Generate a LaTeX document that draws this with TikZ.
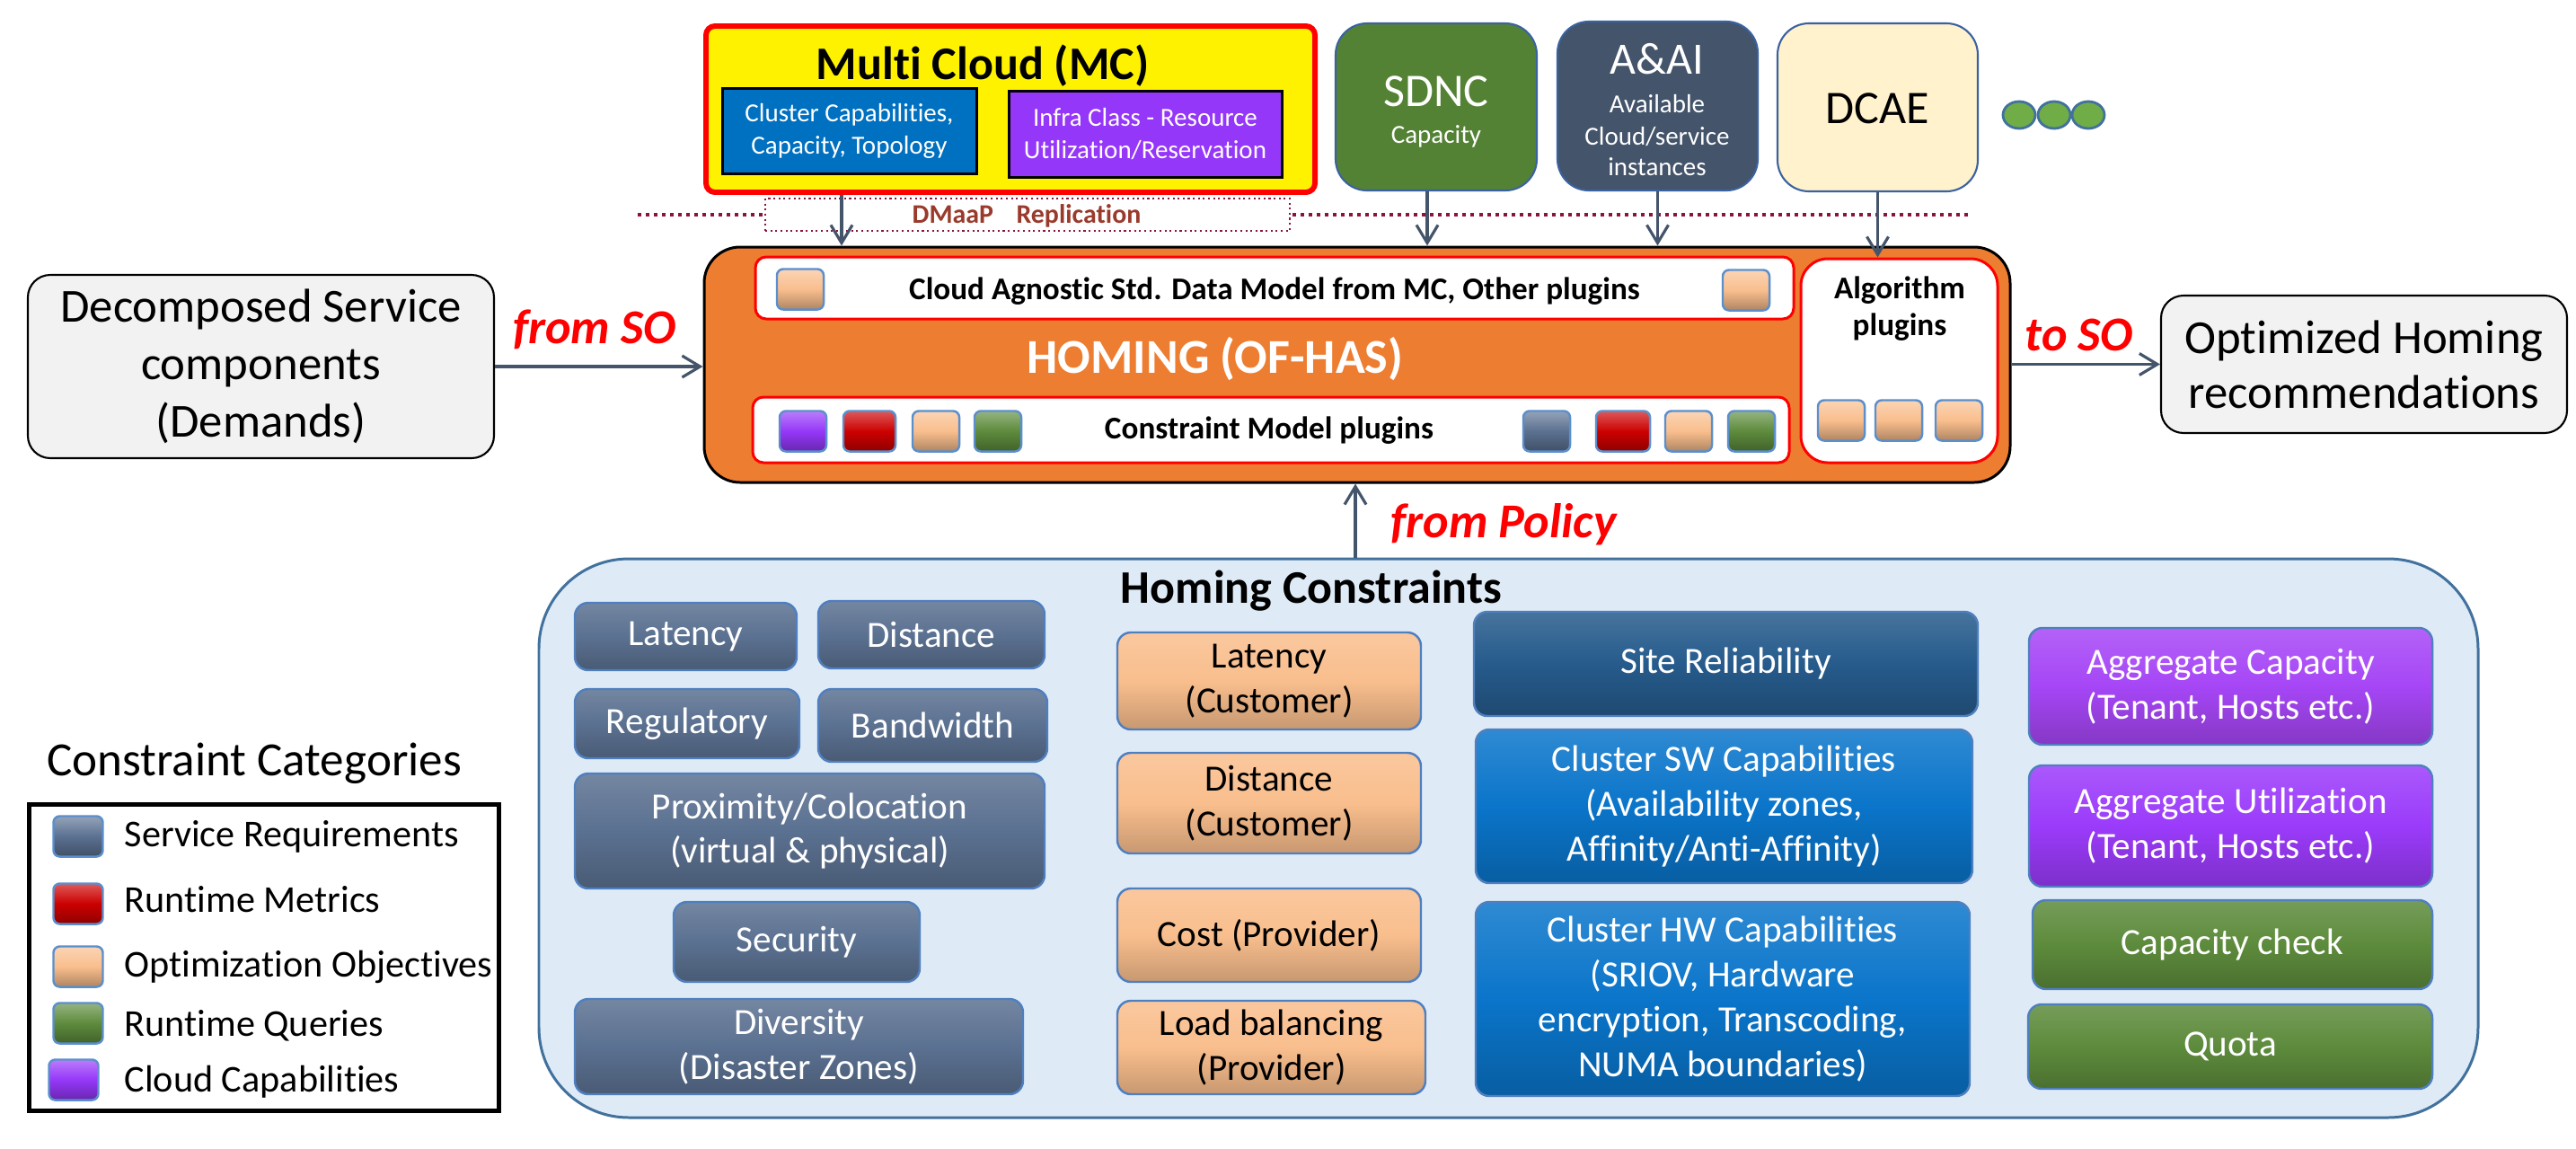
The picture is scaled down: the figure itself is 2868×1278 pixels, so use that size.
\documentclass[tikz,border=0pt]{standalone}
\usepackage{fontspec}
\setmainfont{Carlito}[Ligatures=NoCommon]
\usetikzlibrary{arrows.meta,fit}
\newcommand\myfs[2]{\fontsize{#1}{#2}\selectfont}
\definecolor{cArr}{HTML}{44546A}
\definecolor{cMaroon}{HTML}{8A1538}
\definecolor{cDM}{HTML}{9A3A2C}
\definecolor{cMCblue}{HTML}{0070C0}
\definecolor{cMCpur}{HTML}{9537F9}
\definecolor{cSDNC}{HTML}{548235}
\definecolor{cAAI}{HTML}{44546A}
\definecolor{cDCAE}{HTML}{FFF2CC}
\definecolor{cTopEdge}{HTML}{3A62A0}
\definecolor{cDot}{HTML}{70AD47}
\definecolor{cDotEdge}{HTML}{41719C}
\definecolor{cHom}{HTML}{ED7D31}
\definecolor{cGrayF}{HTML}{F2F2F2}
\definecolor{cCont}{HTML}{41719C}
\definecolor{cContF}{HTML}{DEEBF7}
\definecolor{cSR}{HTML}{5B7191}
\definecolor{cOpt}{HTML}{F9BE8D}
\definecolor{cSite}{HTML}{265B8C}
\definecolor{cClu}{HTML}{0A75CA}
\definecolor{cAggA}{HTML}{A646F6}
\definecolor{cAggB}{HTML}{9B3BFB}
\definecolor{cGrn}{HTML}{5D8B3C}
\definecolor{cRedI}{HTML}{CC0000}
\definecolor{cIcoEdge}{HTML}{5B8FCC}
\definecolor{cBoxEdge}{HTML}{4F7FBF}
\tikzset{
  arr/.style={draw=cArr, line width=0.9pt, -{Straight Barb[length=0.2cm,width=0.24cm]}},
  topbox/.style={draw=cTopEdge, line width=0.6pt, rounded corners=0.35cm, inner sep=0},
  inbox/.style={draw=red, fill=white, line width=0.85pt, inner sep=0},
  ico/.style={draw=cIcoEdge, line width=0.7pt, rounded corners=0.07cm, inner sep=0, minimum width=0.52cm, minimum height=0.45cm},
  icoc/.style={top color=#1!65!white, bottom color=#1!70!black, middle color=#1},
  cb/.style={draw=cBoxEdge, line width=0.7pt, rounded corners=0.15cm, inner sep=0, top color=#1!85!white, bottom color=#1!80!black, middle color=#1},
  ct/.style={inner sep=0, align=center, font=\myfs{11.7}{14.2}},
  cw/.style={ct, text=white},
  txt/.style={inner sep=0, anchor=base},
  lbl/.style={inner sep=0, anchor=base west, font=\myfs{12}{14}},
  redlbl/.style={txt, text=red, font=\bfseries\itshape\myfs{15.4}{18}},
  dotst/.style={fill=cDot, draw=cDotEdge, line width=0.8pt},
}
\begin{document}
\begin{tikzpicture}[x=0.01cm,y=-0.01cm]
\useasboundingbox (0,0) rectangle (2868,1278);

% ---------------- top row ----------------
\node[fit={(786,29)(1464,214)}, inner sep=0, draw=red, fill=yellow, line width=1.7pt, rounded corners=0.1cm] (mc) {};
\node[txt, font=\bfseries\myfs{14.8}{17}] (mct) at (1094,88) {Multi Cloud (MC)};
\node[fit={(804,98)(1087,193)}, inner sep=0, draw=black, fill=cMCblue, line width=0.85pt] (cc) {};
\node[inner sep=0, text=white, align=center, font=\myfs{8.25}{10.2}] (cct) at (cc.center) {Cluster Capabilities,\\Capacity, Topology};
\node[fit={(1123,101)(1427,197)}, inner sep=0, draw=black, fill=cMCpur, line width=0.85pt] (ic) {};
\node[inner sep=0, text=white, align=center, font=\myfs{8.25}{10.2}] (ict) at (ic.center) {Infra Class - Resource\\Utilization/Reservation};

\coordinate (dl1) at (710,239);
\coordinate (dl2) at (2193,239);
\draw[cMaroon, line width=1.4pt, dash pattern=on 0.04cm off 0.05cm] (dl1) -- (dl2);
\node[fit={(852,221)(1436,257)}, inner sep=0, draw=cMaroon, fill=white, densely dotted, line width=0.6pt] (dm) {};
\node[txt, font=\bfseries\myfs{8.5}{10}, text=cDM] (dmt) at (1143,248) {DMaaP\hspace{0.85em}Replication};

\node[topbox, fill=cSDNC, fit={(1487,26)(1711,212)}] (sdnc) {};
\node[txt, text=white, font=\myfs{14.8}{17}] (sdnct) at (1599,118) {SDNC};
\node[txt, text=white, font=\myfs{8.25}{10}] (sdncc) at (1599,159) {Capacity};

\node[topbox, fill=cAAI, fit={(1734,24)(1957,212)}] (aai) {};
\node[txt, text=white, font=\myfs{14.2}{16}] (aait) at (1845,82) {A\&AI};
\node[txt, text=white, font=\myfs{8.25}{10}] (aai1) at (1845,125) {Available};
\node[txt, text=white, font=\myfs{8.25}{10}] (aai2) at (1845,161) {Cloud/service};
\node[txt, text=white, font=\myfs{8.25}{10}] (aai3) at (1845,195) {instances};

\node[topbox, fill=cDCAE, fit={(1979,26)(2202,213)}] (dcae) {};
\node[txt, font=\myfs{14.8}{17}] (dcaet) at (2090,137) {DCAE};

\draw[dotst] (2248,128) ellipse [x radius=0.18cm, y radius=0.15cm];
\draw[dotst] (2287,128) ellipse [x radius=0.18cm, y radius=0.15cm];
\draw[dotst] (2325,128) ellipse [x radius=0.18cm, y radius=0.15cm];

% ---------------- homing box ----------------
\node[fit={(784,275)(2238,537)}, inner sep=0, draw=black, fill=cHom, line width=0.85pt, rounded corners=0.4cm] (hom) {};
\node[inbox, rounded corners=0.12cm, fit={(841,286)(1997,355)}] (cam) {};
\node[txt, font=\bfseries\myfs{10}{12}] (camt) at (1419,333) {Cloud Agnostic Std. Data Model from MC, Other plugins};
\node[txt, text=white, font=\bfseries\myfs{15.4}{18}] (homt) at (1353,415) {HOMING (OF-HAS)};
\node[inbox, rounded corners=0.12cm, fit={(838,442)(1992,515)}] (cmp) {};
\node[txt, font=\bfseries\myfs{10}{12}] (cmpt) at (1413,488) {Constraint Model plugins};
\node[inbox, rounded corners=0.3cm, fit={(2005,288)(2224,515)}] (alg) {};
\node[txt, font=\bfseries\myfs{10}{12}] (algt1) at (2115,332) {Algorithm};
\node[txt, font=\bfseries\myfs{10}{12}] (algt2) at (2115,373) {plugins};

\node[ico, icoc=cOpt] (t1) at (891,322) {};
\node[ico, icoc=cOpt] (t2) at (1944,323) {};
\node[ico, icoc=cMCpur] (c1) at (894,480) {};
\node[ico, icoc=cRedI, minimum width=0.58cm] (c2) at (968,480) {};
\node[ico, icoc=cOpt] (c3) at (1042,480) {};
\node[ico, icoc=cGrn] (c4) at (1111,480) {};
\node[ico, icoc=cSR] (c5) at (1722,480) {};
\node[ico, icoc=cRedI, minimum width=0.6cm] (c6) at (1807,480) {};
\node[ico, icoc=cOpt] (c7) at (1880,480) {};
\node[ico, icoc=cGrn] (c8) at (1950,480) {};
\node[ico, icoc=cOpt] (g1) at (2050,468) {};
\node[ico, icoc=cOpt] (g2) at (2114,468) {};
\node[ico, icoc=cOpt] (g3) at (2181,468) {};

% ---------------- side boxes ----------------
\node[fit={(31,306)(550,510)}, inner sep=0, draw=black, fill=cGrayF, line width=0.6pt, rounded corners=0.25cm] (dec) {};
\node[inner sep=0, align=center, font=\myfs{15}{18.2}] (dect) at (dec.center) {Decomposed Service\\components\\(Demands)};
\node[fit={(2406,329)(2858,482)}, inner sep=0, draw=black, fill=cGrayF, line width=0.6pt, rounded corners=0.25cm] (opt) {};
\node[inner sep=0, align=center, font=\myfs{15}{17.4}] (optt) at (opt.center) {Optimized Homing\\recommendations};

% ---------------- constraints container ----------------
\node[fit={(600,622)(2759,1244)}, inner sep=0, draw=cCont, fill=cContF, line width=0.85pt, rounded corners=1cm] (hc) {};
\node[txt, font=\bfseries\myfs{14.8}{17}] (hct) at (1460,671) {Homing Constraints};

\node[cb=cSR, fit={(640,671)(887,746)}] (lat1) {};
\node[cw] at (lat1.center) {Latency};
\node[cb=cSR, fit={(911,669)(1163,744)}] (dis1) {};
\node[cw] at (dis1.center) {Distance};
\node[cb=cSR, fit={(640,767)(890,844)}] (reg) {};
\node[cw] at (reg.center) {Regulatory};
\node[cb=cSR, fit={(911,767)(1166,848)}] (bw) {};
\node[cw] at (bw.center) {Bandwidth};
\node[cb=cSR, fit={(640,861)(1163,989)}] (prox) {};
\node[cw] at (prox.center) {Proximity/Colocation\\(virtual \& physical)};
\node[cb=cSR, fit={(750,1004)(1024,1093)}] (sec) {};
\node[cw] at (sec.center) {Security};
\node[cb=cSR, fit={(640,1112)(1139,1218)}] (div) {};
\node[cw] at (div.center) {Diversity\\(Disaster Zones)};

\node[cb=cOpt, fit={(1244,704)(1582,812)}] (latc) {};
\node[ct] at (latc.center) {Latency\\(Customer)};
\node[cb=cOpt, fit={(1244,838)(1582,950)}] (disc) {};
\node[ct] at (disc.center) {Distance\\(Customer)};
\node[cb=cOpt, fit={(1244,989)(1582,1093)}] (cost) {};
\node[ct] at (cost.center) {Cost (Provider)};
\node[cb=cOpt, fit={(1244,1114)(1587,1218)}] (lb) {};
\node[ct] at (lb.center) {Load balancing\\(Provider)};

\node[cb=cSite, fit={(1641,681)(2202,797)}] (site) {};
\node[cw] at (site.center) {Site Reliability};
\node[cb=cClu, fit={(1643,812)(2196,983)}] (sw) {};
\node[cw] at (sw.center) {Cluster SW Capabilities\\(Availability zones,\\Affinity/Anti-Affinity)};
\node[cb=cClu, fit={(1643,1004)(2193,1220)}] (hw) {};
\node[cw] at (hw.center) {Cluster HW Capabilities\\(SRIOV, Hardware\\encryption, Transcoding,\\NUMA boundaries)};

\node[cb=cAggA, fit={(2259,699)(2708,829)}] (aggc) {};
\node[cw] at (aggc.center) {Aggregate Capacity\\(Tenant, Hosts etc.)};
\node[cb=cAggB, fit={(2259,852)(2708,987)}] (aggu) {};
\node[cw] at (aggu.center) {Aggregate Utilization\\(Tenant, Hosts etc.)};
\node[cb=cGrn, fit={(2263,1002)(2708,1101)}] (capc) {};
\node[cw] at (capc.center) {Capacity check};
\node[cb=cGrn, fit={(2258,1118)(2708,1212)}] (quota) {};
\node[cw] at (quota.center) {Quota};

% ---------------- legend ----------------
\node[txt, font=\myfs{15.1}{18}] (legt) at (283,863) {Constraint Categories};
\node[fit={(32.5,895.5)(555.5,1236.5)}, inner sep=0, draw=black, line width=1.4pt] (leg) {};
\node[ico, icoc=cSR, minimum width=0.55cm] (l1) at (87,931) {};
\node[ico, icoc=cRedI, minimum width=0.55cm] (l2) at (87,1006) {};
\node[ico, icoc=cOpt, minimum width=0.55cm] (l3) at (87,1076) {};
\node[ico, icoc=cGrn, minimum width=0.55cm] (l4) at (87,1139) {};
\node[ico, icoc=cMCpur, minimum width=0.55cm] (l5) at (82,1202) {};
\node[lbl] (lt1) at (138,942) {Service Requirements};
\node[lbl] (lt2) at (138,1015) {Runtime Metrics};
\node[lbl] (lt3) at (138,1087) {Optimization Objectives};
\node[lbl] (lt4) at (138,1153) {Runtime Queries};
\node[lbl] (lt5) at (138,1215) {Cloud Capabilities};

% ---------------- connectors ----------------
\coordinate (xa) at (937,0);
\coordinate (xb) at (1589,0);
\coordinate (xc) at (1509,0);
\draw[arr] (xa |- mc.south) -- (xa |- hom.north);
\draw[arr] (xb |- sdnc.south) -- (xb |- hom.north);
\draw[arr] (aai.south) -- (aai.south |- hom.north);
\draw[arr] (dcae.south) -- (dcae.south |- alg.north);
\draw[arr] (dec.east) -- (dec.east -| hom.west);
\draw[arr] (hom.east |- opt.west) -- (opt.west);
\draw[arr] (xc |- hc.north) -- (xc |- hom.south);

\node[redlbl] (fso) at (662,382) {from SO};
\node[redlbl] (tso) at (2315,390) {to SO};
\node[redlbl] (fpol) at (1674,598) {from Policy};
\end{tikzpicture}
\end{document}
